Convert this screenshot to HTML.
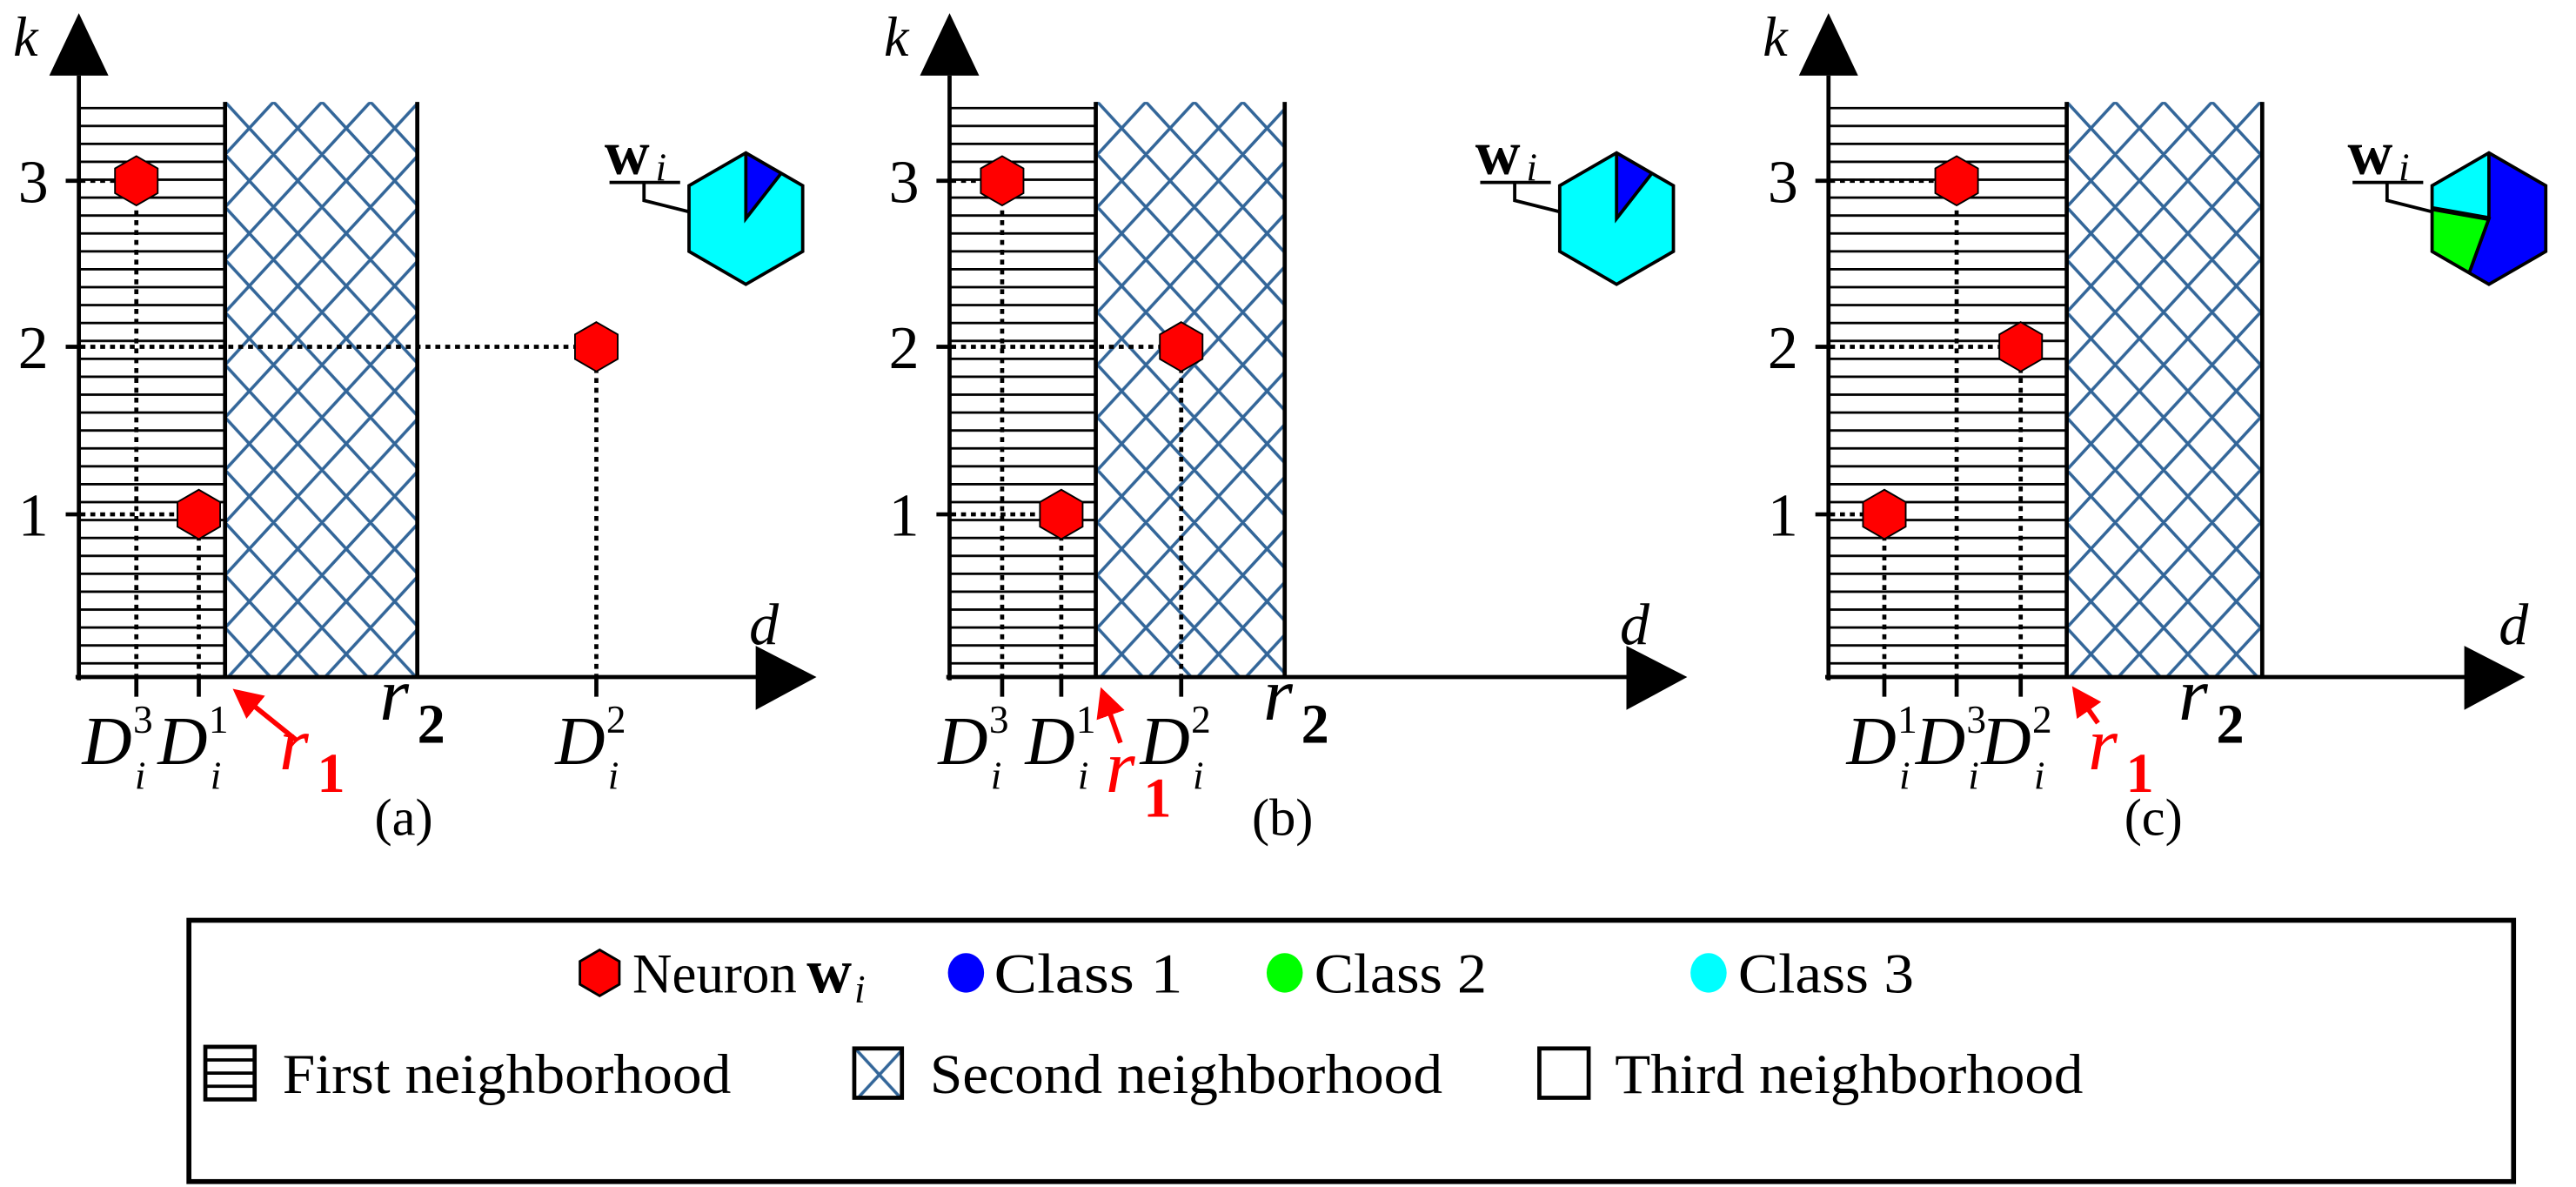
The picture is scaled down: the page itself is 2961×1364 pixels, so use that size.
<!DOCTYPE html>
<html><head><meta charset="utf-8"><style>
html,body{margin:0;padding:0;background:#fff;}
svg{display:block;}
text{font-family:"Liberation Serif",serif;}
.it{font-style:italic;}
</style></head><body>
<svg width="2961" height="1364" viewBox="0 0 1568 722.3" xmlns="http://www.w3.org/2000/svg">
<defs>
<pattern id="xh" width="29.5" height="32" patternUnits="userSpaceOnUse" x="137" y="62">
<path d="M0,0L29.5,32M29.5,0L0,32M-5,26.6L5,37.4M24.5,-5.4L34.5,5.4M-5,5.4L5,-5.4M24.5,37.4L34.5,26.6" stroke="#336699" stroke-width="1.9" fill="none"/>
</pattern>
<pattern id="hl" width="20" height="10.9" patternUnits="userSpaceOnUse" y="65">
<path d="M0,0.7H20" stroke="#000" stroke-width="1.6"/>
</pattern>
<polygon id="hx" points="0,-15 13,-7.5 13,7.5 0,15 -13,7.5 -13,-7.5" fill="#ff0000" stroke="#000" stroke-width="1"/>
<clipPath id="bh"><polygon points="0,-40 34.6,-20 34.6,20 0,40 -34.6,20 -34.6,-20"/></clipPath>
<marker id="ar" markerWidth="6" markerHeight="6" refX="5" refY="3" orient="auto" markerUnits="strokeWidth"><path d="M0,0L6,3L0,6Z" fill="#ff0000"/></marker>
</defs>

<!-- ============ Panel A ============ -->
<g>
<rect x="48" y="65" width="89" height="347" fill="url(#hl)"/>
<rect x="137" y="62" width="117" height="350" fill="url(#xh)"/>
<line x1="137" y1="62" x2="137" y2="412" stroke="#000" stroke-width="2.5"/>
<line x1="254" y1="62" x2="254" y2="412" stroke="#000" stroke-width="2.5"/>
<g stroke="#000" stroke-width="2.5" stroke-dasharray="3,3" fill="none">
<path d="M55,110H72M83,122V412M55,211H352M363,224V412M55,313H110M121,326V412"/>
</g>
<g stroke="#000" stroke-width="2.5">
<path d="M40,110H52M40,211H52M40,313H52M83,412V424M121,412V424M363,412V424"/>
</g>
<line x1="48" y1="46" x2="48" y2="414" stroke="#000" stroke-width="2.5"/>
<line x1="46" y1="412" x2="462" y2="412" stroke="#000" stroke-width="2.5"/>
<polygon points="30,46 66,46 48,8" fill="#000"/>
<polygon points="460,393 460,432 497,412" fill="#000"/>
<use href="#hx" x="83" y="110"/><use href="#hx" x="121" y="313"/><use href="#hx" x="363" y="211"/>
<text x="11" y="123" font-size="37">3</text>
<text x="11" y="224" font-size="37">2</text>
<text x="11" y="326" font-size="37">1</text>
<text x="8" y="34" font-size="34" class="it">k</text>
<text x="456" y="392" font-size="36" class="it">d</text>
<text x="50" y="465" font-size="42" class="it">D</text><text x="81" y="446" font-size="24">3</text><text x="82" y="480" font-size="24" class="it">i</text>
<text x="96" y="465" font-size="42" class="it">D</text><text x="127" y="446" font-size="24">1</text><text x="128" y="480" font-size="24" class="it">i</text>
<text x="338" y="465" font-size="42" class="it">D</text><text x="369" y="446" font-size="24">2</text><text x="370" y="480" font-size="24" class="it">i</text>
<text x="231" y="438" font-size="46" class="it">r</text><text x="254" y="452" font-size="34" font-weight="bold">2</text>
<text x="170" y="468" font-size="46" class="it" fill="#ff0000">r</text><text x="193" y="482" font-size="34" font-weight="bold" fill="#ff0000">1</text>
<line x1="180" y1="450" x2="144" y2="421" stroke="#ff0000" stroke-width="3" marker-end="url(#ar)"/>
<text x="228" y="508" font-size="32">(a)</text>
<g transform="translate(454,133)">
<polygon points="0,-40 34.6,-20 34.6,20 0,40 -34.6,20 -34.6,-20" fill="#00ffff"/>
<path d="M0,0L0,-45A45,45 0 0 1 27.7,-35.5Z" fill="#0000ff" stroke="#000" stroke-width="2" clip-path="url(#bh)"/>
<polygon points="0,-40 34.6,-20 34.6,20 0,40 -34.6,20 -34.6,-20" fill="none" stroke="#000" stroke-width="2"/>
</g>
<text x="368" y="106" font-size="38" font-weight="bold">w</text><text x="399" y="110" font-size="24" class="it">i</text>
<path d="M371,111H414M392,111V122L420,129" stroke="#000" stroke-width="2" fill="none"/>
</g>

<!-- ============ Panel B ============ -->
<g>
<rect x="578" y="65" width="89" height="347" fill="url(#hl)"/>
<rect x="667" y="62" width="115" height="350" fill="url(#xh)"/>
<line x1="667" y1="62" x2="667" y2="412" stroke="#000" stroke-width="2.5"/>
<line x1="782" y1="62" x2="782" y2="412" stroke="#000" stroke-width="2.5"/>
<g stroke="#000" stroke-width="2.5" stroke-dasharray="3,3" fill="none">
<path d="M585,110H599M610,122V412M585,211H708M719,224V412M585,313H635M646,326V412"/>
</g>
<g stroke="#000" stroke-width="2.5">
<path d="M570,110H582M570,211H582M570,313H582M610,412V424M646,412V424M719,412V424"/>
</g>
<line x1="578" y1="46" x2="578" y2="414" stroke="#000" stroke-width="2.5"/>
<line x1="576" y1="412" x2="992" y2="412" stroke="#000" stroke-width="2.5"/>
<polygon points="560,46 596,46 578,8" fill="#000"/>
<polygon points="990,393 990,432 1027,412" fill="#000"/>
<use href="#hx" x="610" y="110"/><use href="#hx" x="646" y="313"/><use href="#hx" x="719" y="211"/>
<text x="541" y="123" font-size="37">3</text>
<text x="541" y="224" font-size="37">2</text>
<text x="541" y="326" font-size="37">1</text>
<text x="538" y="34" font-size="34" class="it">k</text>
<text x="986" y="392" font-size="36" class="it">d</text>
<text x="571" y="465" font-size="42" class="it">D</text><text x="602" y="446" font-size="24">3</text><text x="603" y="480" font-size="24" class="it">i</text>
<text x="624" y="465" font-size="42" class="it">D</text><text x="655" y="446" font-size="24">1</text><text x="656" y="480" font-size="24" class="it">i</text>
<text x="694" y="465" font-size="42" class="it">D</text><text x="725" y="446" font-size="24">2</text><text x="726" y="480" font-size="24" class="it">i</text>
<text x="769" y="438" font-size="46" class="it">r</text><text x="792" y="452" font-size="34" font-weight="bold">2</text>
<text x="673" y="482" font-size="46" class="it" fill="#ff0000">r</text><text x="696" y="497" font-size="34" font-weight="bold" fill="#ff0000">1</text>
<line x1="682" y1="452" x2="671" y2="421" stroke="#ff0000" stroke-width="3" marker-end="url(#ar)"/>
<text x="762" y="508" font-size="32">(b)</text>
<g transform="translate(984,133)">
<polygon points="0,-40 34.6,-20 34.6,20 0,40 -34.6,20 -34.6,-20" fill="#00ffff"/>
<path d="M0,0L0,-45A45,45 0 0 1 27.7,-35.5Z" fill="#0000ff" stroke="#000" stroke-width="2" clip-path="url(#bh)"/>
<polygon points="0,-40 34.6,-20 34.6,20 0,40 -34.6,20 -34.6,-20" fill="none" stroke="#000" stroke-width="2"/>
</g>
<text x="898" y="106" font-size="38" font-weight="bold">w</text><text x="929" y="110" font-size="24" class="it">i</text>
<path d="M901,111H944M922,111V122L950,129" stroke="#000" stroke-width="2" fill="none"/>
</g>

<!-- ============ Panel C ============ -->
<g>
<rect x="1113" y="65" width="145" height="347" fill="url(#hl)"/>
<rect x="1258" y="62" width="119" height="350" fill="url(#xh)"/>
<line x1="1258" y1="62" x2="1258" y2="412" stroke="#000" stroke-width="2.5"/>
<line x1="1377" y1="62" x2="1377" y2="412" stroke="#000" stroke-width="2.5"/>
<g stroke="#000" stroke-width="2.5" stroke-dasharray="3,3" fill="none">
<path d="M1120,110H1180M1191,122V412M1120,211H1219M1230,224V412M1120,313H1136M1147,326V412"/>
</g>
<g stroke="#000" stroke-width="2.5">
<path d="M1105,110H1117M1105,211H1117M1105,313H1117M1147,412V424M1191,412V424M1230,412V424"/>
</g>
<line x1="1113" y1="46" x2="1113" y2="414" stroke="#000" stroke-width="2.5"/>
<line x1="1111" y1="412" x2="1502" y2="412" stroke="#000" stroke-width="2.5"/>
<polygon points="1095,46 1131,46 1113,8" fill="#000"/>
<polygon points="1500,393 1500,432 1537,412" fill="#000"/>
<use href="#hx" x="1191" y="110"/><use href="#hx" x="1147" y="313"/><use href="#hx" x="1230" y="211"/>
<text x="1076" y="123" font-size="37">3</text>
<text x="1076" y="224" font-size="37">2</text>
<text x="1076" y="326" font-size="37">1</text>
<text x="1073" y="34" font-size="34" class="it">k</text>
<text x="1521" y="392" font-size="36" class="it">d</text>
<text x="1124" y="465" font-size="42" class="it">D</text><text x="1155" y="446" font-size="24">1</text><text x="1156" y="480" font-size="24" class="it">i</text>
<text x="1166" y="465" font-size="42" class="it">D</text><text x="1197" y="446" font-size="24">3</text><text x="1198" y="480" font-size="24" class="it">i</text>
<text x="1206" y="465" font-size="42" class="it">D</text><text x="1237" y="446" font-size="24">2</text><text x="1238" y="480" font-size="24" class="it">i</text>
<text x="1326" y="438" font-size="46" class="it">r</text><text x="1349" y="452" font-size="34" font-weight="bold">2</text>
<text x="1271" y="468" font-size="46" class="it" fill="#ff0000">r</text><text x="1294" y="482" font-size="34" font-weight="bold" fill="#ff0000">1</text>
<line x1="1277" y1="440" x2="1263" y2="420" stroke="#ff0000" stroke-width="3" marker-end="url(#ar)"/>
<text x="1293" y="508" font-size="32">(c)</text>
<g transform="translate(1515,133)">
<polygon points="0,-40 34.6,-20 34.6,20 0,40 -34.6,20 -34.6,-20" fill="#00ffff"/>
<path d="M0,0L0,-45A45,45 0 1 1 -15.4,42.3Z" fill="#0000ff" stroke="#000" stroke-width="2" clip-path="url(#bh)"/>
<path d="M0,0L-15.4,42.3A45,45 0 0 1 -44.3,-7.8Z" fill="#00ff00" stroke="#000" stroke-width="2" clip-path="url(#bh)"/>
<line x1="0" y1="0" x2="-44.3" y2="-7.8" stroke="#000" stroke-width="3" clip-path="url(#bh)"/>
<polygon points="0,-40 34.6,-20 34.6,20 0,40 -34.6,20 -34.6,-20" fill="none" stroke="#000" stroke-width="2"/>
</g>
<text x="1429" y="106" font-size="38" font-weight="bold">w</text><text x="1460" y="110" font-size="24" class="it">i</text>
<path d="M1432,111H1475M1453,111V122L1481,129" stroke="#000" stroke-width="2" fill="none"/>
</g>

<!-- ============ Legend ============ -->
<rect x="115" y="560" width="1415" height="159" fill="none" stroke="#000" stroke-width="3"/>
<polygon points="365,578 377,585 377,599 365,606 353,599 353,585" fill="#ff0000" stroke="#000" stroke-width="1.5"/>
<text x="385" y="604" font-size="34" textLength="100" lengthAdjust="spacingAndGlyphs">Neuron</text>
<text x="491" y="604" font-size="38" font-weight="bold">w</text><text x="520" y="610" font-size="24" class="it">i</text>
<ellipse cx="588" cy="592" rx="11" ry="12" fill="#0000ff"/>
<text x="605" y="604" font-size="34" textLength="115" lengthAdjust="spacingAndGlyphs">Class 1</text>
<ellipse cx="782" cy="592" rx="11" ry="12" fill="#00ff00"/>
<text x="800" y="604" font-size="34" textLength="105" lengthAdjust="spacingAndGlyphs">Class 2</text>
<ellipse cx="1040" cy="592" rx="11" ry="12" fill="#00ffff"/>
<text x="1058" y="604" font-size="34" textLength="107" lengthAdjust="spacingAndGlyphs">Class 3</text>
<rect x="125" y="637" width="30" height="32" fill="#fff" stroke="#000" stroke-width="2.5"/>
<path d="M125,645H155M125,653H155M125,661H155" stroke="#000" stroke-width="2"/>
<text x="172" y="665" font-size="34" textLength="273" lengthAdjust="spacingAndGlyphs">First neighborhood</text>
<rect x="520" y="638" width="29" height="30" fill="url(#xh)" stroke="#000" stroke-width="2.5"/>
<text x="566" y="665" font-size="34" textLength="312" lengthAdjust="spacingAndGlyphs">Second neighborhood</text>
<rect x="937" y="638" width="30" height="30" fill="#fff" stroke="#000" stroke-width="2.5"/>
<text x="983" y="665" font-size="34" textLength="285" lengthAdjust="spacingAndGlyphs">Third neighborhood</text>
</svg>
</body></html>
